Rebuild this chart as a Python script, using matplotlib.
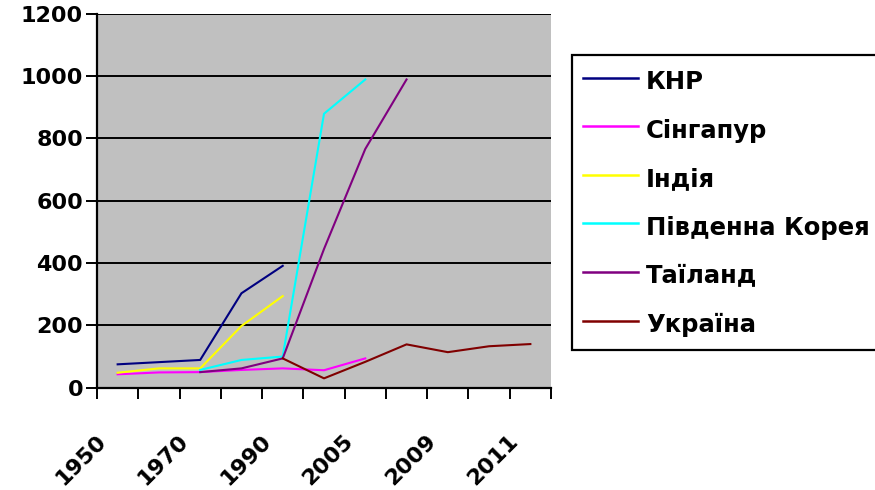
import numpy as np
import matplotlib.pyplot as plt
from matplotlib.transforms import ScaledTranslation

nan = np.nan

# categories (only every other one gets a label on the axis)
years = ['1950', '1960', '1970', '1980', '1990', '2000',
         '2005', '2008', '2009', '2010', '2011']

china = [75, 82, 89, 303, 391, nan, nan, nan, nan, nan, nan]
singapore = [43, 49, 50, 57, 62, 56, 94, nan, nan, nan, nan]
india = [48, 62, 62, 198, 294, nan, nan, nan, nan, nan, nan]
korea = [nan, nan, 57, 89, 100, 879, 989, nan, nan, nan, nan]
thailand = [nan, nan, 50, 62, 94, 445, 766, 989, nan, nan, nan]
ukraine = [nan, nan, nan, nan, 94, 30, 83, 139, 114, 133, 140]

names = ['КНР', 'Сінгапур', 'Індія', 'Південна Корея', 'Таїланд', 'Україна']
colors = ['#000080', '#FF00FF', '#FFFF00', '#00FFFF', '#800080', '#800000']
series = [china, singapore, india, korea, thailand, ukraine]

plt.rcParams['font.family'] = ['DejaVu Sans']
plt.rcParams['font.weight'] = 'bold'

fig = plt.figure(figsize=(8.75, 4.9), dpi=100)
ax = fig.add_axes([97/875, 1-387.7/490, 454/875, 374/490])
ax.set_facecolor('#C0C0C0')

x = np.arange(len(years))
for vals, name, c in zip(series, names, colors):
    ax.plot(x, vals, color=c, lw=1.5, label=name, zorder=3)

ax.set_ylim(0, 1200)
ax.set_yticks(range(0, 1201, 200))
ax.yaxis.grid(True, color='black', lw=1.4, zorder=1)
ax.set_axisbelow(True)
ax.tick_params(axis='y', length=8, width=1.4, labelsize=16, pad=2)

ax.set_xlim(-0.5, len(years) - 0.5)
ax.set_xticks(np.arange(-0.5, len(years), 1.0))
ax.set_xticklabels([])
ax.set_xticks(x[::2], minor=True)
ax.set_xticklabels(years[::2], minor=True, rotation=45, ha='center',
                   va='center', rotation_mode='anchor', fontsize=16)
ax.tick_params(axis='x', which='major', length=8, width=1.4)
ax.tick_params(axis='x', which='minor', length=0, pad=0)
shift = ScaledTranslation(-0.37, -0.72, fig.dpi_scale_trans)
for lab in ax.get_xticklabels(minor=True):
    lab.set_transform(lab.get_transform() + shift)

for s in ['right', 'top']:
    ax.spines[s].set_visible(False)
for s in ['left', 'bottom']:
    ax.spines[s].set_linewidth(1.6)

leg = fig.legend(loc='upper left', bbox_to_anchor=(572/875, 1-55/490),
                 fontsize=17.5, frameon=True, fancybox=False, framealpha=1,
                 edgecolor='black', handlelength=2.26, handletextpad=0.33,
                 handleheight=1.56, borderpad=0.45, labelspacing=0.74,
                 borderaxespad=0)
leg.get_frame().set_linewidth(1.6)
for line in leg.get_lines():
    line.set_linewidth(1.8)

fig.savefig('out.png', dpi=100, facecolor='white')
